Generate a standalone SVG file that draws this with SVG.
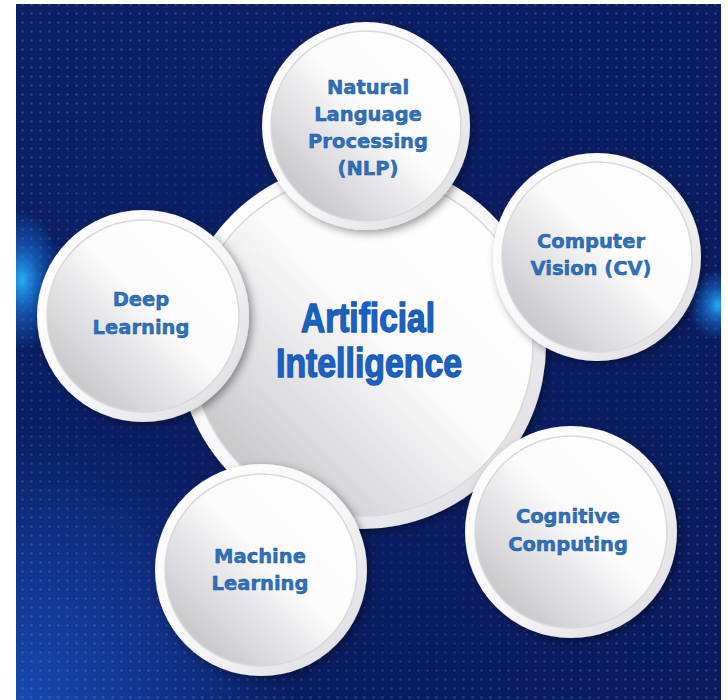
<svg xmlns="http://www.w3.org/2000/svg" width="728" height="700" viewBox="0 0 728 700">
<defs>
  <style>
    .lbl{font-family:"DejaVu Sans","Noto Sans",sans-serif;font-weight:700;font-size:19.5px;fill:#2c72bf;stroke:#1b4f8c;stroke-width:0.45;text-anchor:middle}
    .ai{font-family:"Liberation Sans",Arial,sans-serif;font-weight:700;font-size:41px;fill:#1a63c2;stroke:#1759b4;stroke-width:1.4;text-anchor:middle}
    .rim{fill:url(#rimG);filter:url(#shadow)}
    .face{fill:url(#faceG);stroke:#d9d9dd;stroke-width:1.5}
  </style>
  <clipPath id="bgClip"><rect x="16" y="4" width="705" height="696"/></clipPath>
  <linearGradient id="bgG" x1="0" y1="0" x2="1" y2="1">
    <stop offset="0" stop-color="#0b2166"/>
    <stop offset="0.5" stop-color="#0a1d62"/>
    <stop offset="1" stop-color="#0a1c5e"/>
  </linearGradient>
  <radialGradient id="lbG" cx="0" cy="1" r="0.4">
    <stop offset="0" stop-color="#1c55c4" stop-opacity="0.8"/>
    <stop offset="1" stop-color="#1c55c4" stop-opacity="0"/>
  </radialGradient>
  <radialGradient id="glowL" cx="0.5" cy="0.5" r="0.5">
    <stop offset="0" stop-color="#27b4ff" stop-opacity="0.95"/>
    <stop offset="0.5" stop-color="#1b7ee8" stop-opacity="0.5"/>
    <stop offset="1" stop-color="#1b7ee8" stop-opacity="0"/>
  </radialGradient>
  <pattern id="dots" width="9" height="9" patternUnits="userSpaceOnUse">
    <circle cx="4.5" cy="4.5" r="1.2" fill="#5b8ff0"/>
  </pattern>
  <radialGradient id="dotMaskG" cx="0.5" cy="0.5" r="0.55">
    <stop offset="0" stop-color="#fff" stop-opacity="0.05"/>
    <stop offset="0.7" stop-color="#fff" stop-opacity="0.18"/>
    <stop offset="1" stop-color="#fff" stop-opacity="0.35"/>
  </radialGradient>
  <mask id="dotMask">
    <rect x="16" y="4" width="705" height="696" fill="url(#dotMaskG)"/>
  </mask>
  <linearGradient id="rimG" x1="0" y1="0" x2="1" y2="1">
    <stop offset="0" stop-color="#ffffff"/>
    <stop offset="0.55" stop-color="#f6f6f8"/>
    <stop offset="0.85" stop-color="#e2e2e6"/>
    <stop offset="1" stop-color="#b8b8be"/>
  </linearGradient>
  <linearGradient id="faceG" x1="0" y1="1" x2="1" y2="0">
    <stop offset="0" stop-color="#b4b4ba"/>
    <stop offset="0.3" stop-color="#dcdce0"/>
    <stop offset="0.55" stop-color="#fbfbfb"/>
    <stop offset="1" stop-color="#ffffff"/>
  </linearGradient>
  <filter id="shadow" x="-20%" y="-20%" width="140%" height="140%">
    <feDropShadow dx="3" dy="3" stdDeviation="4" flood-color="#000" flood-opacity="0.4"/>
  </filter>
</defs>

<rect width="728" height="700" fill="#ffffff"/>
<g id="background" clip-path="url(#bgClip)">
  <rect x="16" y="4" width="705" height="696" fill="url(#bgG)"/>
  <rect x="16" y="4" width="705" height="696" fill="url(#lbG)"/>
  <rect x="16" y="4" width="705" height="696" fill="url(#dots)" mask="url(#dotMask)"/>
  <ellipse cx="22" cy="280" rx="40" ry="70" fill="url(#glowL)"/>
  <ellipse cx="718" cy="305" rx="30" ry="35" fill="url(#glowL)"/>
</g>

<g id="connectors"></g>

<g id="node-ai">
  <circle class="rim" cx="362" cy="345" r="184"/>
  <circle class="face" cx="362" cy="345" r="171"/>
  <text class="ai" x="368" y="332" textLength="134" lengthAdjust="spacingAndGlyphs">Artificial</text>
  <text class="ai" x="369" y="377" textLength="186" lengthAdjust="spacingAndGlyphs">Intelligence</text>
</g>

<g id="node-nlp">
  <circle class="rim" cx="366" cy="126" r="104"/>
  <circle class="face" cx="366" cy="126" r="95"/>
  <text class="lbl" x="368" y="94">Natural</text>
  <text class="lbl" x="368" y="121">Language</text>
  <text class="lbl" x="368" y="148">Processing</text>
  <text class="lbl" x="368" y="175">(NLP)</text>
</g>

<g id="node-cv">
  <circle class="rim" cx="597" cy="257" r="104"/>
  <circle class="face" cx="597" cy="257" r="95"/>
  <text class="lbl" x="591" y="248">Computer</text>
  <text class="lbl" x="591" y="275">Vision (CV)</text>
</g>

<g id="node-dl">
  <circle class="rim" cx="143" cy="316" r="106"/>
  <circle class="face" cx="143" cy="316" r="96"/>
  <text class="lbl" x="141" y="306">Deep</text>
  <text class="lbl" x="141" y="334">Learning</text>
</g>

<g id="node-ml">
  <circle class="rim" cx="261" cy="570" r="106"/>
  <circle class="face" cx="261" cy="570" r="96"/>
  <text class="lbl" x="260" y="563">Machine</text>
  <text class="lbl" x="260" y="590">Learning</text>
</g>

<g id="node-cc">
  <circle class="rim" cx="571" cy="532" r="106"/>
  <circle class="face" cx="571" cy="532" r="96"/>
  <text class="lbl" x="568" y="523">Cognitive</text>
  <text class="lbl" x="568" y="551">Computing</text>
</g>
</svg>
